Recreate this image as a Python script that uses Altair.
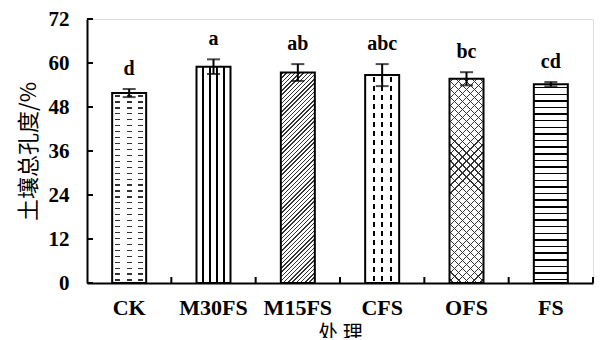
import math
import altair as alt
import pandas as pd

# ---- data ----
treatments = ["CK", "M30FS", "M15FS", "CFS", "OFS", "FS"]
porosity = [51.8, 59.0, 57.4, 56.7, 55.7, 54.2]
errors = [1.1, 2.0, 2.3, 3.0, 1.8, 0.6]
letters = ["d", "a", "ab", "abc", "bc", "cd"]
y_ticks = [0, 12, 24, 36, 48, 60, 72]

df = pd.DataFrame({
    "treatment": treatments,
    "value": porosity,
    "err": errors,
    "letter": letters,
})
ticks_df = pd.DataFrame({"t": y_ticks})

# ---- layout / style ----
W, H = 506, 264
BAR = 34
PXU = H / 72.0
SERIF = "Liberation Serif"
CJK = "Noto Sans CJK SC"
CLEAR = "rgba(255,255,255,0)"


def stripe_stops(n, line_px, span_px, on="#000000", off="#ffffff", start=0.5, ks=None):
    w = line_px / span_px
    stops = [alt.GradientStop(color=off, offset=0)]
    rng = ks if ks is not None else range(n)
    for k in rng:
        c = (k + start) / n
        a = max(0.0, c - w / 2)
        b = min(1.0, c + w / 2)
        stops += [
            alt.GradientStop(color=off, offset=a),
            alt.GradientStop(color=on, offset=a),
            alt.GradientStop(color=on, offset=b),
            alt.GradientStop(color=off, offset=b),
        ]
    stops.append(alt.GradientStop(color=off, offset=1))
    return stops


def vgrad(stops):
    return alt.LinearGradient(gradient="linear", stops=stops, x1=0, x2=0, y1=0, y2=1)


def hgrad(stops):
    return alt.LinearGradient(gradient="linear", stops=stops, x1=0, x2=1, y1=0, y2=0)


def diag(hpx, period, line_px, on, off, forward=True):
    r = hpx / BAR
    k = (1 + r) / (1 + r * r)
    span = (BAR + hpx) / math.sqrt(2)
    n = max(1, int(round(span / period)))
    stops = stripe_stops(n, line_px, span, on=on, off=off)
    if forward:
        return alt.LinearGradient(gradient="linear", stops=stops, x1=0, y1=0, x2=k, y2=k * r)
    return alt.LinearGradient(gradient="linear", stops=stops, x1=0, y1=1, x2=k, y2=1 - k * r)


heights = {t: v * PXU for t, v in zip(treatments, porosity)}

fills = {
    "CK": [
        vgrad(stripe_stops(int(round(heights["CK"] / 6.0)), 1.2, heights["CK"], on="#333333")),
        hgrad(stripe_stops(3, 5.0, BAR, on=CLEAR, off="#ffffff")),
    ],
    "M30FS": [
        hgrad(stripe_stops(5, 1.8, BAR, start=0, ks=range(1, 5))),
    ],
    "M15FS": [
        diag(heights["M15FS"], 3.0, 1.0, "#333333", "#ffffff", True),
    ],
    "CFS": [
        hgrad(stripe_stops(4, 1.8, BAR, start=0, ks=range(1, 4))),
        vgrad(stripe_stops(int(round(heights["CFS"] / 9.0)), 5.0, heights["CFS"], on=CLEAR, off="#ffffff")),
    ],
    "OFS": [
        diag(heights["OFS"], 5.6, 0.9, "#333333", "#ffffff", True),
        diag(heights["OFS"], 5.6, 0.9, "#333333", CLEAR, False),
    ],
    "FS": [
        vgrad(stripe_stops(int(round(heights["FS"] / 6.6)), 1.4, heights["FS"])),
    ],
}

x_enc = alt.X(
    "treatment:N",
    sort=treatments,
    scale=alt.Scale(paddingInner=0, paddingOuter=0),
    axis=alt.Axis(
        title="处 理",
        labelAngle=0,
        ticks=False,
        tickSize=0,
        domainColor="black",
        domainWidth=2,
        labelFont=SERIF,
        labelFontSize=22,
        labelFontWeight="bold",
        labelColor="black",
        labelPadding=14,
        titleFont=CJK,
        titleFontSize=20,
        titleFontWeight="normal",
        titleColor="black",
        titlePadding=5,
    ),
)
y_enc = alt.Y(
    "value:Q",
    scale=alt.Scale(domain=[0, 72], nice=False),
    axis=alt.Axis(
        title="土壤总孔度/%",
        values=y_ticks,
        ticks=False,
        tickSize=0,
        grid=False,
        domainColor="black",
        domainWidth=2,
        labelFont=SERIF,
        labelFontSize=21,
        labelFontWeight="bold",
        labelColor="black",
        labelPadding=18,
        titleFont=CJK,
        titleFontSize=22,
        titleFontWeight="normal",
        titleColor="black",
        titlePadding=8,
    ),
)

base = alt.Chart(df)
layers = []
for t in treatments:
    for g in fills[t]:
        layers.append(
            base.transform_filter(alt.datum.treatment == t)
            .mark_bar(size=BAR, fill=g)
            .encode(x=x_enc, y=y_enc)
        )

outline = base.mark_bar(size=BAR, fill=CLEAR, stroke="black", strokeWidth=2).encode(x=x_enc, y=y_enc)

err_base = base.transform_calculate(lo="datum.value - datum.err", hi="datum.value + datum.err")
err_rule = err_base.mark_rule(color="black", strokeWidth=2).encode(
    x=alt.X("treatment:N", sort=treatments), y="lo:Q", y2="hi:Q"
)
cap_lo = err_base.mark_tick(color="black", size=13, thickness=2, orient="horizontal").encode(
    x=alt.X("treatment:N", sort=treatments), y="lo:Q"
)
cap_hi = err_base.mark_tick(color="black", size=13, thickness=2, orient="horizontal").encode(
    x=alt.X("treatment:N", sort=treatments), y="hi:Q"
)
labels = err_base.mark_text(
    font=SERIF, fontSize=20, fontWeight="bold", color="black", dy=-14, baseline="alphabetic"
).encode(x=alt.X("treatment:N", sort=treatments), y="hi:Q", text="letter:N")

xticks = base.mark_rule(color="black", strokeWidth=2).encode(
    x=alt.X("treatment:N", sort=treatments, bandPosition=1),
    y=alt.value(H),
    y2=alt.value(H - 6),
)
yticks = alt.Chart(ticks_df).mark_rule(color="black", strokeWidth=2).encode(
    y=alt.Y("t:Q"),
    x=alt.value(0),
    x2=alt.value(6),
)

chart = (
    alt.layer(*layers, outline, err_rule, cap_lo, cap_hi, labels, xticks, yticks)
    .properties(
        width=W,
        height=H,
        autosize=alt.AutoSizeParams(type="none"),
        padding={"left": 79, "top": 11, "right": 8, "bottom": 55},
    )
    .configure_view(stroke=None)
    .configure(background="white")
)

chart.save("out.html", embed_options={"renderer": "svg", "actions": False})
